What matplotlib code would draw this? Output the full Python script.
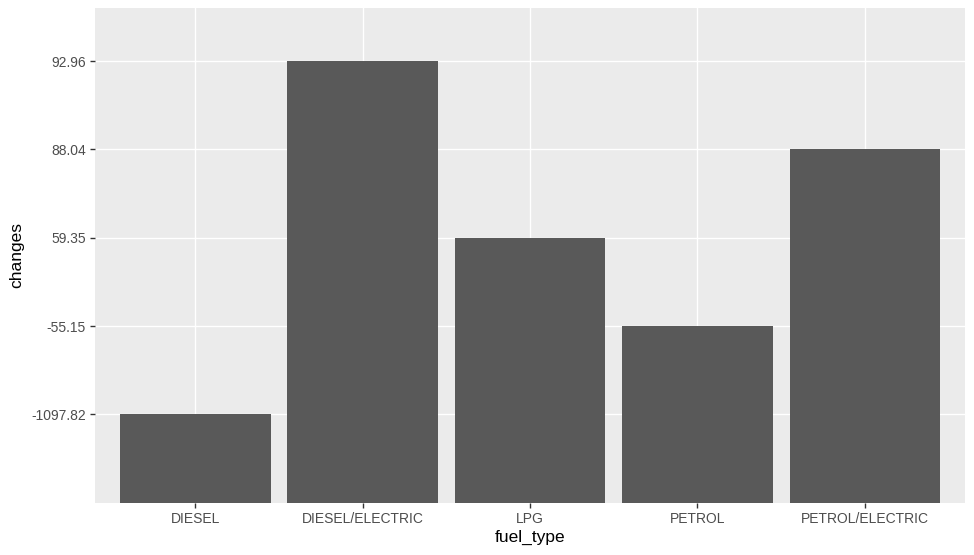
import matplotlib
matplotlib.use('Agg')
import matplotlib.pyplot as plt
import numpy as np

plt.rcParams['font.family'] = ['Liberation Sans', 'DejaVu Sans']

fuel_type = ['DIESEL', 'DIESEL/ELECTRIC', 'LPG', 'PETROL', 'PETROL/ELECTRIC']
changes = ['-1097.82', '92.96', '59.35', '-55.15', '88.04']

# y is a discrete (string) axis, levels sorted like R factor levels
levels = ['-1097.82', '-55.15', '59.35', '88.04', '92.96']
level_pos = {lv: i + 1 for i, lv in enumerate(levels)}
heights = [level_pos[c] for c in changes]

fig = plt.figure(figsize=(9.74, 5.55), dpi=100)
ax = fig.add_axes([0.0975, 0.094, 0.8935, 0.8915])
ax.set_facecolor('#EBEBEB')

x = np.arange(1, len(fuel_type) + 1)
ax.bar(x, heights, width=0.9, color='#595959', zorder=2)

ax.set_xlim(0.4, len(fuel_type) + 0.6)
ax.set_ylim(0, len(levels) + 0.6)
ax.set_xticks(x)
ax.set_xticklabels(fuel_type)
ax.set_yticks(range(1, len(levels) + 1))
ax.set_yticklabels(levels)

ax.grid(True, color='white', linewidth=1.0, zorder=1)
ax.set_axisbelow(True)
for s in ax.spines.values():
    s.set_visible(False)

ax.tick_params(axis='both', colors='#333333', labelcolor='#4D4D4D',
               labelsize=10, length=3.5, width=1, pad=3)
ax.set_xlabel('fuel_type', fontsize=12.5, color='black', labelpad=3)
ax.set_ylabel('changes', fontsize=12.5, color='black', labelpad=5)

fig.savefig('out.png', dpi=100)
